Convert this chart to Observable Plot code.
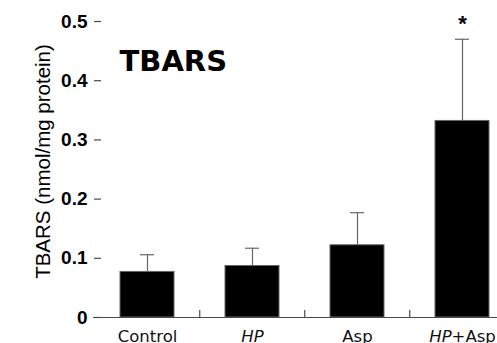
<!DOCTYPE html>
<html>
<head>
<meta charset="utf-8">
<script src="https://cdn.jsdelivr.net/npm/d3@7"></script>
<script src="https://cdn.jsdelivr.net/npm/@observablehq/plot@0.6"></script>
<style>
  html, body { margin: 0; padding: 0; background: #fff; }
</style>
</head>
<body>
<div id="chart"></div>
<script>
const categories = ["Control", "HP", "Asp", "HP+Asp"];
const means = [0.077, 0.087, 0.122, 0.332];
const errors = [0.029, 0.030, 0.055, 0.138];
const significant = [false, false, false, true];
const yTicks = [0, 0.1, 0.2, 0.3, 0.4, 0.5];
const yTickLabels = ["0", "0.1", "0.2", "0.3", "0.4", "0.5"];
const yLabel = "TBARS (nmol/mg protein)";
const title = "TBARS";

const data = categories.map((c, i) => ({cat: c, mean: means[i], err: errors[i], top: means[i] + errors[i], sig: significant[i]}));

const axisColor = "#4a4a4a";

const plot = Plot.plot({
  width: 497,
  height: 343,
  marginLeft: 93,
  marginRight: 0,
  marginTop: 21,
  marginBottom: 26,
  style: {fontFamily: "'Liberation Sans', Arial, sans-serif", background: "#fff", color: "#000"},
  x: {type: "band", domain: categories, range: [93, 515], paddingInner: 0.49, paddingOuter: 0.245, align: 0.5},
  y: {domain: [0, 0.5], range: [317, 21]},
  marks: [
    Plot.barY(data, {x: "cat", y: "mean", fill: "#000", stroke: "#666", strokeWidth: 1}),
    Plot.ruleX(data, {x: "cat", y1: "mean", y2: "top", stroke: "#666", strokeWidth: 1.2}),
    Plot.tickY(data, {x: "cat", y: "top", stroke: "#666", strokeWidth: 1.2, insetLeft: 20, insetRight: 20}),
    Plot.text(data.filter(d => d.sig), {x: "cat", y: "top", text: () => "*", dy: -15, fontSize: 22, fontWeight: "bold", fill: "#000"}),
    Plot.ruleY([0], {stroke: axisColor, strokeWidth: 1.2}),
    Plot.ruleX(categories.slice(1), {x: d => d, y1: 0, y2: 0.012, dx: -52.75, stroke: axisColor, strokeWidth: 1.2}),
    // inward tick marks on the y axis
    Plot.axisY(yTicks, {anchor: "right", frameAnchor: "left", tickSize: 7, text: null, stroke: axisColor, strokeWidth: 1.2, label: null}),
    Plot.axisY(yTicks, {
      anchor: "left", line: true, tickSize: 0, tickPadding: 6, stroke: axisColor, strokeWidth: 1.2,
      tickFormat: d => yTickLabels[yTicks.indexOf(d)], fontSize: 19, fontWeight: "bold", fill: "#000", label: null
    }),
    Plot.axisX({anchor: "bottom", tickSize: 0, tickPadding: 13, fontSize: 16.5, fill: "#111", fontFamily: "'DejaVu Sans', sans-serif", label: null}),
    Plot.text([yLabel], {frameAnchor: "left", rotate: -90, dx: -58, dy: -8, lineAnchor: "top", textAnchor: "middle", fontSize: 20.5, fill: "#000"}),
    Plot.text([title], {frameAnchor: "top-left", dx: 26, dy: 29, lineAnchor: "top", textAnchor: "start", fontSize: 29, fontWeight: "bold", fill: "#000", fontFamily: "'DejaVu Sans', sans-serif"})
  ]
});

document.getElementById("chart").appendChild(plot);

// Italicise "HP" in the x tick labels
plot.querySelectorAll('[aria-label="x-axis tick label"] text').forEach(t => {
  const s = t.textContent;
  if (s.startsWith("HP")) {
    t.textContent = "";
    const a = document.createElementNS("http://www.w3.org/2000/svg", "tspan");
    a.setAttribute("font-style", "italic");
    a.textContent = "HP";
    t.appendChild(a);
    const rest = s.slice(2);
    if (rest) {
      const b = document.createElementNS("http://www.w3.org/2000/svg", "tspan");
      b.textContent = rest;
      t.appendChild(b);
    }
  }
});
</script>
</body>
</html>
